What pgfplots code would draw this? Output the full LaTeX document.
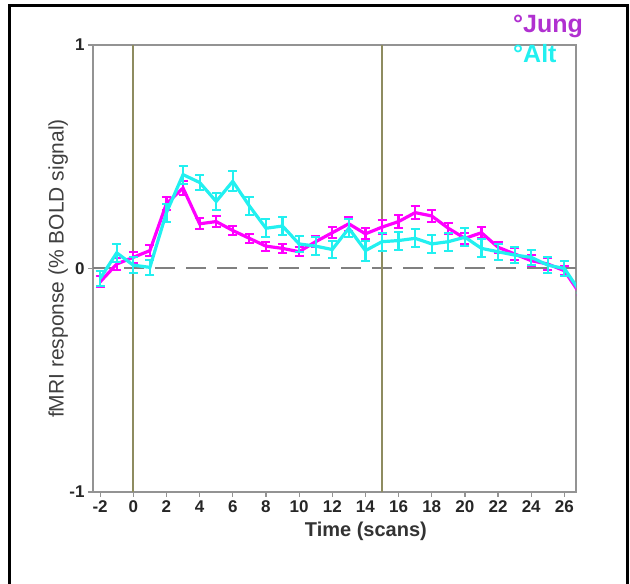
\documentclass[border=0pt]{standalone}
\usepackage{pgfplots}
\pgfplotsset{compat=1.18}
\usepackage{pgfplotstable}
\usepackage{fontspec}
\setmainfont{Liberation Sans}

\definecolor{jungline}{HTML}{FF00FF}
\definecolor{jungtext}{HTML}{B030D0}
\definecolor{altline}{HTML}{22F0F0}
\definecolor{frameGray}{HTML}{939393}
\definecolor{onsetOlive}{HTML}{8E8C60}

% time (scans), mean response, standard error
\pgfplotstableread{
t y e
-2 -0.06 0.025
-1 0.02 0.025
0 0.05 0.025
1 0.08 0.025
2 0.29 0.03
3 0.36 0.03
4 0.20 0.025
5 0.21 0.025
6 0.17 0.02
7 0.135 0.02
8 0.10 0.02
9 0.09 0.02
10 0.075 0.02
11 0.12 0.025
12 0.16 0.025
13 0.20 0.03
14 0.155 0.025
15 0.185 0.03
16 0.21 0.03
17 0.25 0.03
18 0.235 0.025
19 0.18 0.025
20 0.135 0.025
21 0.16 0.025
22 0.095 0.025
23 0.065 0.025
24 0.035 0.025
25 0.02 0.025
26 -0.01 0.02
27 -0.12 0
}\jung

\pgfplotstableread{
t y e
-2 -0.045 0.035
-1 0.07 0.04
0 0.015 0.035
1 0.005 0.035
2 0.25 0.04
3 0.42 0.04
4 0.385 0.035
5 0.30 0.04
6 0.39 0.045
7 0.28 0.04
8 0.18 0.04
9 0.19 0.04
10 0.11 0.035
11 0.10 0.04
12 0.085 0.04
13 0.18 0.04
14 0.08 0.045
15 0.12 0.04
16 0.125 0.04
17 0.135 0.04
18 0.11 0.04
19 0.12 0.04
20 0.14 0.04
21 0.09 0.04
22 0.075 0.035
23 0.06 0.035
24 0.05 0.035
25 0.015 0.035
26 0.0 0.035
27 -0.11 0
}\alt

\begin{document}
\begin{tikzpicture}
\path[use as bounding box] (0,0) rectangle (630pt,584pt);
% outer frame
\draw[black, line width=3pt] (9pt,0) -- (9pt,578pt) -- (627pt,578pt) -- (627pt,0);

\begin{axis}[
  at={(93pt,92pt)}, anchor=south west,
  scale only axis, width=483pt, height=447pt,
  xmin=-2.43, xmax=26.7, ymin=-1, ymax=1,
  axis line style={frameGray, line width=2pt},
  xtick={-2,0,...,26}, ytick={-1,0,1},
  tick align=outside, major tick length=5pt,
  tick style={frameGray, line width=1.2pt},
  xtick pos=bottom, ytick pos=left,
  /pgf/number format/assume math mode=true,
  ticklabel style={font=\bfseries\fontsize{17}{19}\selectfont, text=black!85},
  xlabel={Time (scans)},
  ylabel={fMRI response (\% BOLD signal)},
  xlabel style={font=\bfseries\fontsize{20}{22}\selectfont, text=black!80, at={(axis description cs:0.565,-0.087)}, anchor=center},
  ylabel style={font=\fontsize{21}{23}\selectfont, text=black!75, at={(axis description cs:-0.072,0.5)}, anchor=center},
  clip=true,
]
\addplot[gray, dash pattern=on 20pt off 11pt, line width=2pt, forget plot] coordinates {(-2.43,0) (26.7,0)};
\addplot[onsetOlive, line width=1.8pt, forget plot] coordinates {(0,-1) (0,1)};
\addplot[onsetOlive, line width=1.8pt, forget plot] coordinates {(15,-1) (15,1)};

\addplot[jungline, line width=3.2pt, mark=none,
  error bars/.cd, y dir=both, y explicit,
  error bar style={line width=2.2pt, color=jungline, solid},
  error mark options={line width=2pt, mark size=4.5pt, color=jungline, rotate=90}]
  table[x=t, y=y, y error=e] {\jung};

\addplot[altline, line width=3.2pt, mark=none,
  error bars/.cd, y dir=both, y explicit,
  error bar style={line width=2.2pt, color=altline, solid},
  error mark options={line width=2pt, mark size=4.5pt, color=altline, rotate=90}]
  table[x=t, y=y, y error=e] {\alt};
\end{axis}

\node[anchor=base west, text=jungtext, font=\bfseries\fontsize{25}{27}\selectfont, inner sep=0pt] at (513pt,551pt) {°Jung};
\node[anchor=base west, text=altline, font=\bfseries\fontsize{25}{27}\selectfont, inner sep=0pt] at (513pt,521pt) {°Alt};
\end{tikzpicture}
\end{document}
